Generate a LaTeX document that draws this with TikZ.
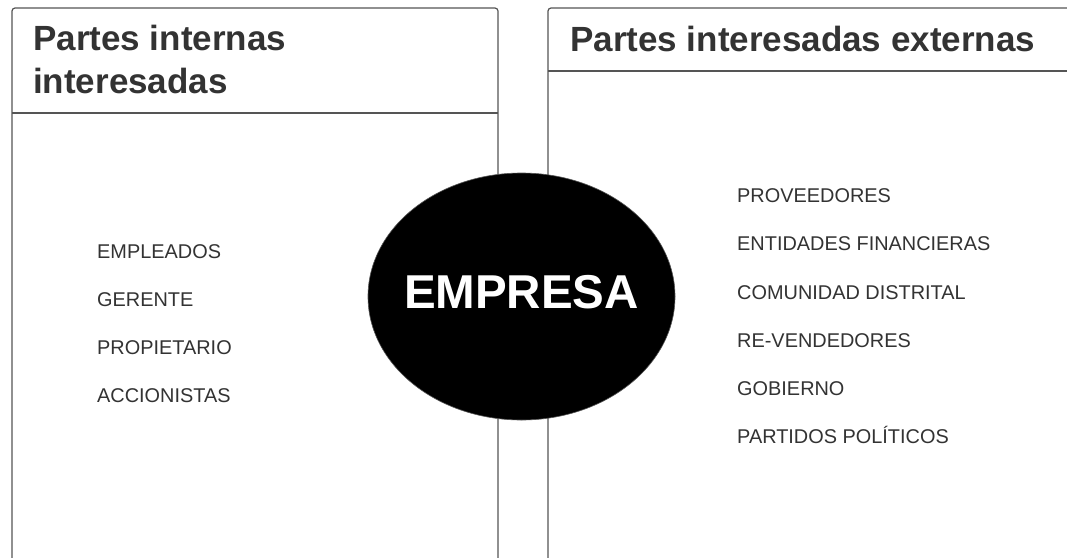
\documentclass[tikz,border=0pt]{standalone}
\usepackage{fontspec}
\setmainfont{Liberation Sans}
\usetikzlibrary{shapes.geometric}
\definecolor{txt}{HTML}{333333}
\definecolor{edge}{HTML}{555555}
\tikzset{
  panel/.style={draw=edge, line width=1.2pt, rounded corners=3pt},
  sep/.style={draw=edge, line width=1.2pt},
  head/.style={anchor=base west, inner sep=0pt, text=txt, font=\bfseries\fontsize{35}{44}\selectfont},
  item/.style={anchor=base west, inner sep=0pt, text=txt, font=\fontsize{19.9}{22}\selectfont},
}
\begin{document}
\begin{tikzpicture}[x=1pt,y=-1pt]
\useasboundingbox (0,0) rectangle (1067,557);
\clip (0,0) rectangle (1067,557);
\fill[white] (0,0) rectangle (1067,557);
% left panel
\draw[panel] (12,570) -- (12,8) -- (498,8) -- (498,570);
\draw[sep] (12,113) -- (498,113);
% right panel
\draw[panel] (548,570) -- (548,8) -- (1080,8) -- (1080,570);
\draw[sep] (548,71) -- (1080,71);
% headers
\node[head] (h1a) at (33,50) {Partes internas};
\node[head] (h1b) at (33,93) {interesadas};
\node[head] (h2) at (570,51) {Partes interesadas externas};
% left items
\node[item] (l1) at (97,258) {EMPLEADOS};
\node[item] (l2) at (97,306) {GERENTE};
\node[item] (l3) at (97,354) {PROPIETARIO};
\node[item] (l4) at (97,402) {ACCIONISTAS};
% right items
\node[item] (r1) at (737,202.5) {PROVEEDORES};
\node[item] (r2) at (737,250.5) {ENTIDADES FINANCIERAS};
\node[item] (r3) at (737,299) {COMUNIDAD DISTRITAL};
\node[item] (r4) at (737,347) {RE-VENDEDORES};
\node[item] (r5) at (737,395) {GOBIERNO};
\node[item] (r6) at (737,443) {PARTIDOS POLÍTICOS};
% center
\node[ellipse, fill=black, draw=edge, line width=0.6pt, minimum width=307pt, minimum height=247pt, inner sep=0pt, outer sep=0pt] (emp) at (521.5,296.5) {};
\node[inner sep=0pt, text=white, font=\bfseries\fontsize{47.5}{50}\selectfont, yshift=4pt] (empt) at (emp.center) {EMPRESA};
\end{tikzpicture}
\end{document}
